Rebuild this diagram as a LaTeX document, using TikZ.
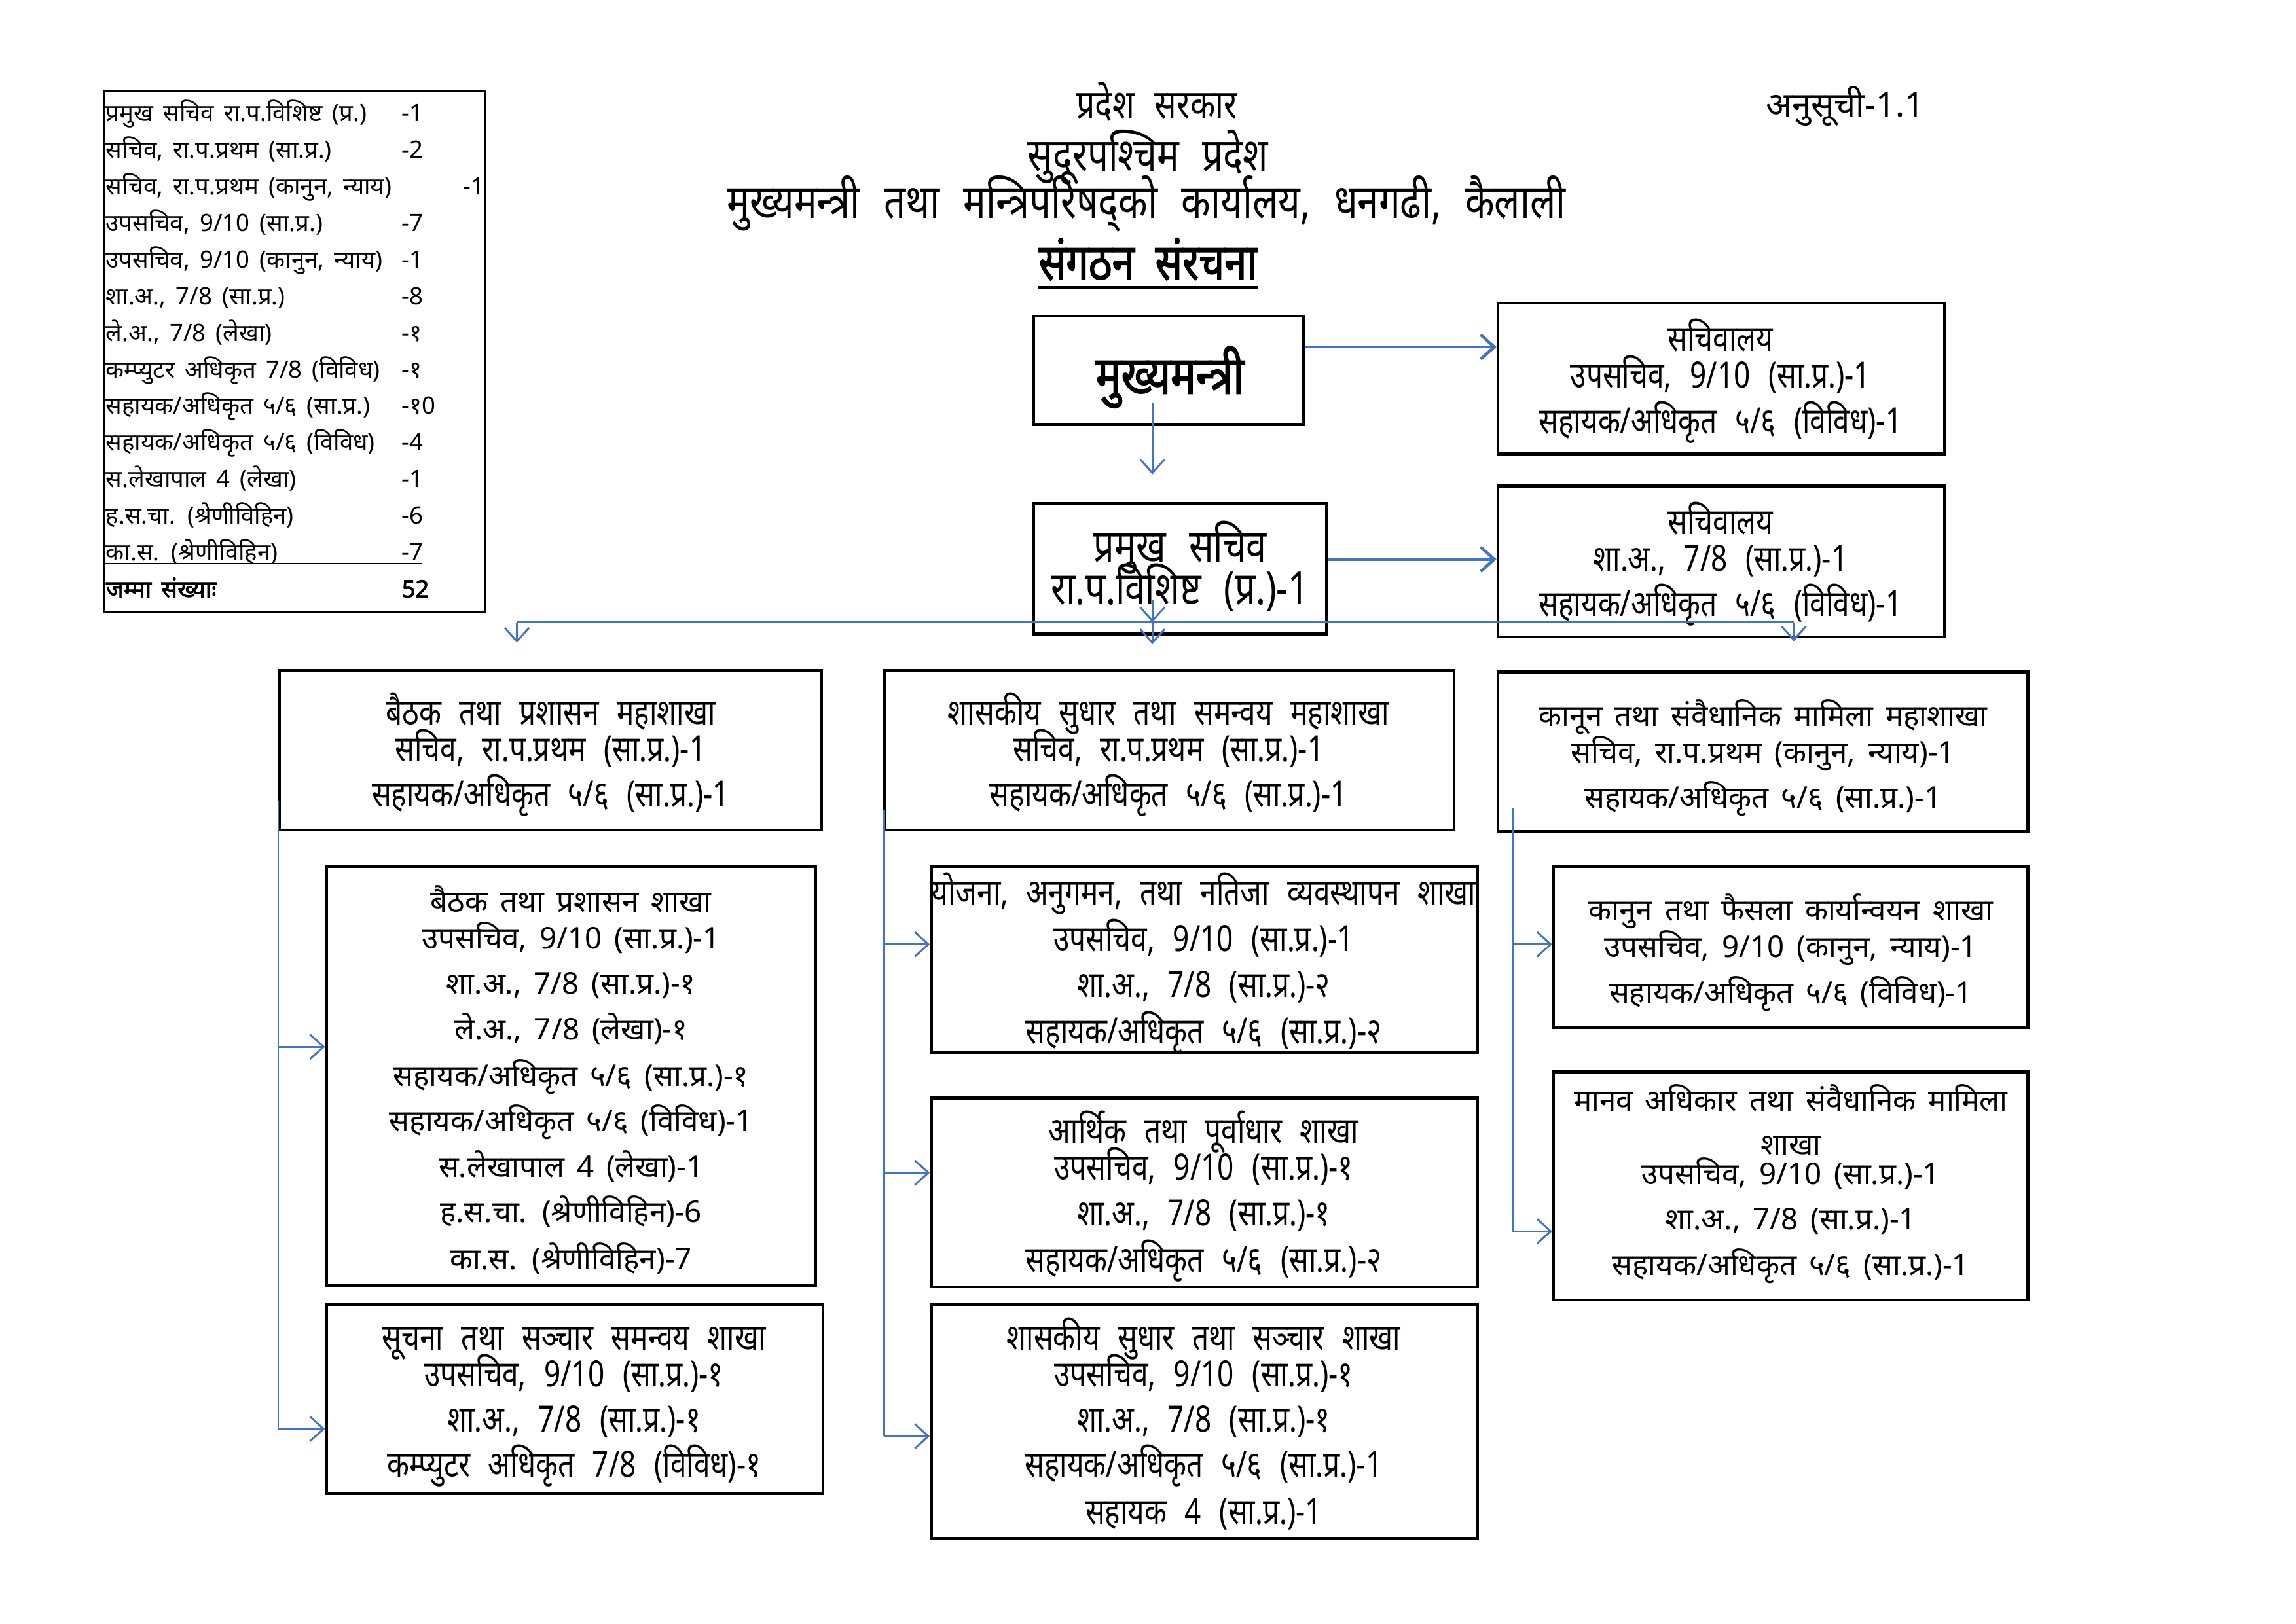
\documentclass[tikz,border=0pt]{standalone}
\usepackage{fontspec}
\usetikzlibrary{arrows.meta,fit}
\newfontfamily\dev[Script=Devanagari,WordSpace=1.6]{Noto Sans}
\newfontfamily\devb[Script=Devanagari,WordSpace=1.6,FakeBold=2]{Noto Sans}
\newfontfamily\devc[Script=Devanagari,FakeStretch=0.8,WordSpace=2.4]{Noto Sans}
\newfontfamily\devcb[Script=Devanagari,FakeStretch=0.8,WordSpace=2.0,FakeBold=2]{Noto Sans}
\definecolor{arrblue}{RGB}{68,114,196}
\newcommand\T[4][tx]{\node[#1] (#2) at (#3) {#4};}
\newcommand\B[5]{\node[bx, fit={(#2,#3) (#4,#5)}] (#1) {};}
\tikzset{
  bx/.style={draw=black, line width=1.1pt, inner sep=0pt},
  tx/.style={font=\devc\fontsize{13.3}{15}\selectfont, inner sep=0pt, anchor=base},
  txr/.style={font=\dev\fontsize{11}{13}\selectfont, inner sep=0pt, anchor=base},
  tb/.style={font=\dev\fontsize{8.8}{11}\selectfont, inner sep=0pt, anchor=base west},
  tbb/.style={font=\devb\fontsize{8.8}{11}\selectfont, inner sep=0pt, anchor=base west},
  conn/.style={draw=arrblue, line width=0.7pt},
  arr/.style={conn, -{Straight Barb[length=5pt,width=9pt]}},
  arrT/.style={arr, line width=1.1pt},
}
\begin{document}
\begin{tikzpicture}[x=0.018942cm, y=-0.018942cm]
\fill[white] (0,0) rectangle (1568,1109);
\path[use as bounding box] (0,0) rectangle (1568,1109);

% ---------- left summary table ----------
\node[draw=black, line width=0.8pt, inner sep=0pt, fit={(71,62) (331,418)}] (tab) {};
\T[tb]{r1}{72,83}{प्रमुख सचिव रा.प.विशिष्ट (प्र.)}
\T[tb]{n1}{274,83}{-1}
\T[tb]{r2}{72,108}{सचिव, रा.प.प्रथम (सा.प्र.)}
\T[tb]{n2}{274,108}{-2}
\T[tb]{r3}{72,133}{सचिव, रा.प.प्रथम (कानुन, न्याय)}
\T[tb]{n3}{316,133}{-1}
\T[tb]{r4}{72,158}{उपसचिव, 9/10 (सा.प्र.)}
\T[tb]{n4}{274,158}{-7}
\T[tb]{r5}{72,183}{उपसचिव, 9/10 (कानुन, न्याय)}
\T[tb]{n5}{274,183}{-1}
\T[tb]{r6}{72,208}{शा.अ., 7/8 (सा.प्र.)}
\T[tb]{n6}{274,208}{-8}
\T[tb]{r7}{72,233}{ले.अ., 7/8 (लेखा)}
\T[tb]{n7}{274,233}{-१}
\T[tb]{r8}{72,258}{कम्प्युटर अधिकृत 7/8 (विविध)}
\T[tb]{n8}{274,258}{-१}
\T[tb]{r9}{72,283}{सहायक/अधिकृत ५/६ (सा.प्र.)}
\T[tb]{n9}{274,283}{-१0}
\T[tb]{r10}{72,308}{सहायक/अधिकृत ५/६ (विविध)}
\T[tb]{n10}{274,308}{-4}
\T[tb]{r11}{72,333}{स.लेखापाल 4 (लेखा)}
\T[tb]{n11}{274,333}{-1}
\T[tb]{r12}{72,358}{ह.स.चा. (श्रेणीविहिन)}
\T[tb]{n12}{274,358}{-6}
\T[tb]{r13}{72,383}{का.स. (श्रेणीविहिन)}
\T[tb]{n13}{274,383}{-7}
\draw[line width=0.6pt] (71,385) -- (288,385);
\T[tbb]{r14}{72,408}{जम्मा संख्याः}
\T[tbb]{n14}{274,408}{52}

% ---------- titles ----------
\T[tx]{h1}{790,81}{\fontsize{15}{17}\selectfont प्रदेश सरकार}
\T[tx]{h2}{784,117}{\fontsize{17}{19}\selectfont सुदूरपश्चिम प्रदेश}
\T[tx]{h3}{783,149}{\fontsize{17.5}{20}\selectfont मुख्यमन्त्री तथा मन्त्रिपरिषद्को कार्यालय, धनगढी, कैलाली}
\T[tx]{h4}{784,191}{\devcb\fontsize{18.5}{20}\selectfont संगठन संरचना}
\draw[line width=1.2pt] ([yshift=-3pt]h4.base west) -- ([yshift=-3pt]h4.base east);
\T[txr]{h5}{1260,80}{\fontsize{12.6}{15}\selectfont अनुसूची-1.1}

% ---------- top boxes ----------
\B{mm}{706}{216}{890}{290}
\T[tx]{mmt}{799,269}{\devcb\fontsize{19.5}{21}\selectfont मुख्यमन्त्री}
\B{s1}{1023}{207}{1328}{310}
\T{s1a}{1175,240}{सचिवालय}
\T{s1b}{1175,265}{उपसचिव, 9/10 (सा.प्र.)-1}
\T{s1c}{1175,296}{सहायक/अधिकृत ५/६ (विविध)-1}
\B{ps}{706}{344}{906}{433}
\T[tx]{psa}{806,384}{\fontsize{16.8}{18}\selectfont प्रमुख सचिव}
\T[tx]{psb}{806,413}{\fontsize{16.8}{18}\selectfont रा.प.विशिष्ट (प्र.)-1}
\B{s2}{1023}{332}{1328}{435}
\T{s2a}{1175,365}{सचिवालय}
\T{s2b}{1175,390}{शा.अ., 7/8 (सा.प्र.)-1}
\T{s2c}{1175,421}{सहायक/अधिकृत ५/६ (विविध)-1}

% ---------- mahashakha ----------
\B{m1}{191}{458}{561}{567}
\T{m1a}{376,495}{बैठक तथा प्रशासन महाशाखा}
\T{m1b}{376,520}{सचिव, रा.प.प्रथम (सा.प्र.)-1}
\T{m1c}{376,551}{सहायक/अधिकृत ५/६ (सा.प्र.)-1}
\B{m2}{604}{458}{993}{567}
\T{m2a}{798,495}{शासकीय सुधार तथा समन्वय महाशाखा}
\T{m2b}{798,520}{सचिव, रा.प.प्रथम (सा.प्र.)-1}
\T{m2c}{798,551}{सहायक/अधिकृत ५/६ (सा.प्र.)-1}
\B{m3}{1023}{459}{1385}{568}
\T[txr]{m3a}{1204,496}{कानून तथा संवैधानिक मामिला महाशाखा}
\T[txr]{m3b}{1204,521}{सचिव, रा.प.प्रथम (कानुन, न्याय)-1}
\T[txr]{m3c}{1204,552}{सहायक/अधिकृत ५/६ (सा.प्र.)-1}

% ---------- shakha ----------
\B{b1}{223}{592}{557}{878}
\T[txr]{b1a}{390,623}{बैठक तथा प्रशासन शाखा}
\T[txr]{b1b}{390,648}{उपसचिव, 9/10 (सा.प्र.)-1}
\T[txr]{b1c}{390,679}{शा.अ., 7/8 (सा.प्र.)-१}
\T[txr]{b1d}{390,710}{ले.अ., 7/8 (लेखा)-१}
\T[txr]{b1e}{390,742}{सहायक/अधिकृत ५/६ (सा.प्र.)-१}
\T[txr]{b1f}{390,773}{सहायक/अधिकृत ५/६ (विविध)-1}
\T[txr]{b1g}{390,804}{स.लेखापाल 4 (लेखा)-1}
\T[txr]{b1h}{390,835}{ह.स.चा. (श्रेणीविहिन)-6}
\T[txr]{b1i}{390,867}{का.स. (श्रेणीविहिन)-7}

\B{b2}{223}{891}{562}{1020}
\T{b2a}{392,922}{सूचना तथा सञ्चार समन्वय शाखा}
\T{b2b}{392,947}{उपसचिव, 9/10 (सा.प्र.)-१}
\T{b2c}{392,978}{शा.अ., 7/8 (सा.प्र.)-१}
\T{b2d}{392,1009}{कम्प्युटर अधिकृत 7/8 (विविध)-१}

\B{b3}{636}{592}{1009}{719}
\T{b3a}{822,618}{योजना, अनुगमन, तथा नतिजा व्यवस्थापन शाखा}
\T{b3b}{822,650}{उपसचिव, 9/10 (सा.प्र.)-1}
\T{b3c}{822,681}{शा.अ., 7/8 (सा.प्र.)-२}
\T{b3d}{822,713}{सहायक/अधिकृत ५/६ (सा.प्र.)-२}

\B{b4}{636}{750}{1009}{879}
\T{b4a}{822,781}{आर्थिक तथा पूर्वाधार शाखा}
\T{b4b}{822,806}{उपसचिव, 9/10 (सा.प्र.)-१}
\T{b4c}{822,837}{शा.अ., 7/8 (सा.प्र.)-१}
\T{b4d}{822,869}{सहायक/अधिकृत ५/६ (सा.प्र.)-२}

\B{b5}{636}{891}{1009}{1051}
\T{b5a}{822,922}{शासकीय सुधार तथा सञ्चार शाखा}
\T{b5b}{822,947}{उपसचिव, 9/10 (सा.प्र.)-१}
\T{b5c}{822,978}{शा.अ., 7/8 (सा.प्र.)-१}
\T{b5d}{822,1009}{सहायक/अधिकृत ५/६ (सा.प्र.)-1}
\T{b5e}{822,1041}{सहायक 4 (सा.प्र.)-1}

\B{b6}{1061}{592}{1385}{702}
\T[txr]{b6a}{1223,629}{कानुन तथा फैसला कार्यान्वयन शाखा}
\T[txr]{b6b}{1223,654}{उपसचिव, 9/10 (कानुन, न्याय)-1}
\T[txr]{b6c}{1223,685}{सहायक/अधिकृत ५/६ (विविध)-1}

\B{b7}{1061}{732}{1385}{888}
\T[txr]{b7a}{1223,759}{मानव अधिकार तथा संवैधानिक मामिला}
\T[txr]{b7b}{1223,789}{शाखा}
\T[txr]{b7c}{1223,809}{उपसचिव, 9/10 (सा.प्र.)-1}
\T[txr]{b7d}{1223,840}{शा.अ., 7/8 (सा.प्र.)-1}
\T[txr]{b7e}{1223,871}{सहायक/अधिकृत ५/६ (सा.प्र.)-1}

% ---------- connectors ----------
\coordinate (y237) at (0,237);
\coordinate (y382) at (0,382);
\draw[arrT] (mm.east |- y237) -- (s1.west |- y237);
\draw[arrT] (ps.east |- y382) -- (s2.west |- y382);
\coordinate (mmd) at (787,275);
\coordinate (mmq) at (787,324);
\draw[arr] (mmd) -- (mmq);
\coordinate (psd) at (787,410);
\coordinate (busL) at (353,425);
\coordinate (busM) at (787,425);
\coordinate (busR) at (1225,425);
\coordinate (dL) at (353,439);
\coordinate (dM) at (787,440);
\coordinate (dR) at (1225,438);
\draw[conn] (busL) -- (busR);
\draw[arr] (psd) -- (busM);
\draw[arr] (busL) -- (dL);
\draw[arr] (busM) -- (dM);
\draw[arr] (busR) -- (dR);

% left column
\coordinate (lt) at (190,547);
\coordinate (la) at (190,715);
\coordinate (lb) at (190,976);
\draw[conn] (lt) -- (lb);
\draw[arr] (la) -- (b1.west |- la);
\draw[arr] (lb) -- (b2.west |- lb);
% middle column
\coordinate (mt) at (604,553);
\coordinate (ma) at (604,645);
\coordinate (mb) at (604,801);
\coordinate (mc) at (604,981);
\draw[conn] (mt) -- (mc);
\draw[arr] (ma) -- (b3.west |- ma);
\draw[arr] (mb) -- (b4.west |- mb);
\draw[arr] (mc) -- (b5.west |- mc);
% right column
\coordinate (rt) at (1033,552);
\coordinate (ra) at (1033,645);
\coordinate (rb) at (1033,841);
\draw[conn] (rt) -- (rb);
\draw[arr] (ra) -- (b6.west |- ra);
\draw[arr] (rb) -- (b7.west |- rb);
\end{tikzpicture}
\end{document}
